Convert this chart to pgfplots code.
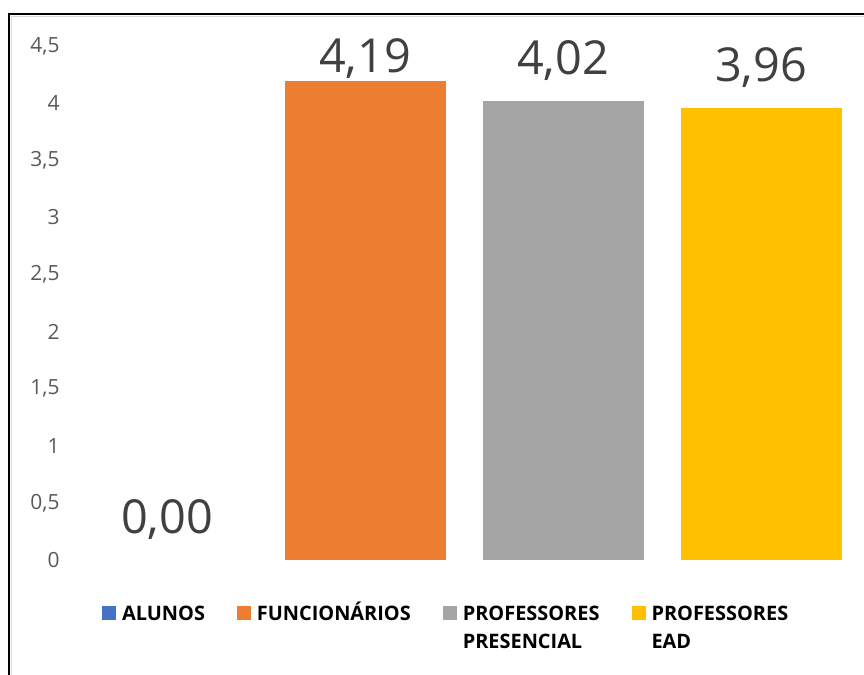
\documentclass[border=0pt]{standalone}
\usepackage{fontspec}
\setmainfont{Open Sans}
\usepackage{pgfplots}
\pgfplotsset{compat=1.18}

\definecolor{cAlunos}{HTML}{4472C4}
\definecolor{cFunc}{HTML}{ED7D31}
\definecolor{cPres}{HTML}{A5A5A5}
\definecolor{cEad}{HTML}{FFC000}
\definecolor{tickgray}{HTML}{595959}
\definecolor{lblgray}{HTML}{404040}

\newcommand{\entry}[1]{\begin{tabular}[t]{@{}l@{}}#1\end{tabular}}

\pgfplotsset{
  mybar/.style={fill=#1, draw=none,
    legend image code/.code={\fill[#1] (0bp,0bp) rectangle (14bp,14bp);}},
}

\begin{document}
\begin{tikzpicture}[x=1bp,y=1bp]
\path[use as bounding box] (0,0) rectangle (864,675);
% chart frame
\draw[line width=0.8bp, black!15] (11.5,0) -- (11.5,658.5) -- (864,658.5);
\draw[line width=2.5bp] (9,0) -- (9,661) -- (864,661);

\begin{axis}[
    at={(68bp,115bp)}, anchor=south west,
    scale only axis,
    width=792bp, height=514bp,
    xmin=-0.5, xmax=3.5,
    ymin=0, ymax=4.5,
    ytick={0,0.5,...,4.5},
    xtick=\empty,
    axis line style={draw=none},
    major tick length=0pt,
    clip=false,
    ybar, bar width=161bp, bar shift=0pt,
    /pgf/number format/use comma,
    /pgf/number format/assume math mode=true,
    yticklabel style={font=\fontsize{21}{26}\selectfont, color=tickgray, anchor=east, xshift=-5bp},
    nodes near coords={\pgfmathprintnumber[fixed,fixed zerofill,precision=2]{\pgfplotspointmeta}},
    every node near coord/.append style={font=\fontsize{47}{56}\selectfont, color=lblgray, anchor=base, yshift=26bp},
    legend columns=4,
    legend style={
        at={(rel axis cs:0.043,-0.0736)}, anchor=north west,
        draw=none, inner sep=0pt, outer sep=0pt,
        font=\bfseries\fontsize{20}{29}\selectfont,
        cells={anchor=base west},
        /tikz/every odd column/.append style={column sep=4bp},
        /tikz/every even column/.append style={column sep=30bp},
    },
]

\addplot[mybar=cAlunos, fill=none] coordinates {(0,0)};
\addlegendentry{\entry{ALUNOS}}

\addplot[mybar=cFunc, every node near coord/.append style={yshift=-17bp}] coordinates {(1,4.19)};
\addlegendentry{\entry{FUNCIONÁRIOS}}

\addplot[mybar=cPres] coordinates {(2,4.02)};
\addlegendentry{\entry{PROFESSORES\\PRESENCIAL}}

\addplot[mybar=cEad] coordinates {(3,3.96)};
\addlegendentry{\entry{PROFESSORES\\EAD}}

\end{axis}
\end{tikzpicture}
\end{document}
